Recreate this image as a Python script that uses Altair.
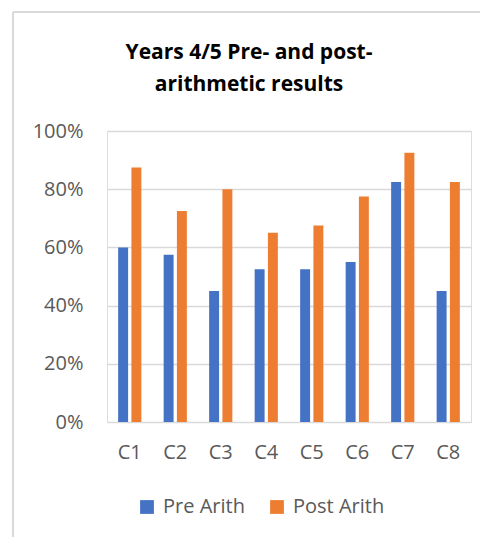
import altair as alt
import pandas as pd

categories = ["C1", "C2", "C3", "C4", "C5", "C6", "C7", "C8"]
pre_arith = [0.60, 0.575, 0.45, 0.525, 0.525, 0.55, 0.825, 0.45]
post_arith = [0.875, 0.725, 0.80, 0.65, 0.675, 0.775, 0.925, 0.825]
series = ["Pre Arith", "Post Arith"]
colors = ["#4472C4", "#ED7D31"]

rows = []
for c, a, b in zip(categories, pre_arith, post_arith):
    rows.append({"cat": c, "series": series[0], "value": a})
    rows.append({"cat": c, "series": series[1], "value": b})
df = pd.DataFrame(rows)

FONT = "Open Sans"
GREY = "#595959"

bars = alt.Chart(df).mark_bar().encode(
    x=alt.X("cat:N", sort=categories,
            scale=alt.Scale(paddingInner=0.49, paddingOuter=0.245),
            axis=alt.Axis(title=None, labelAngle=0, ticks=False, domain=False,
                          labelPadding=20, labelFontSize=20, labelColor=GREY,
                          labelFont=FONT)),
    xOffset=alt.XOffset("series:N", sort=series,
                        scale=alt.Scale(paddingInner=0.25, paddingOuter=0)),
    y=alt.Y("value:Q", scale=alt.Scale(domain=[0, 1]),
            axis=alt.Axis(title=None, format=".0%", values=[0, 0.2, 0.4, 0.6, 0.8, 1.0],
                          ticks=False, domain=False, labelPadding=24,
                          labelFontSize=20, labelColor=GREY, labelFont=FONT,
                          gridColor="#d9d9d9", gridWidth=1.3)),
    color=alt.Color("series:N", sort=series,
                    scale=alt.Scale(domain=series, range=colors),
                    legend=alt.Legend(title=None, orient="none", legendX=30, legendY=366,
                                      direction="horizontal", symbolType="square",
                                      symbolSize=190, symbolStrokeWidth=0,
                                      labelFontSize=20, labelColor=GREY, labelFont=FONT,
                                      labelOffset=6, columnPadding=22)),
)

border = alt.Chart(df).mark_rule(color="#d9d9d9", strokeWidth=1.5).encode(
    x=alt.value(-94), y=alt.value(-119), y2=alt.value(420)
)
border_top = alt.Chart(df).mark_rule(color="#d9d9d9", strokeWidth=1.5).encode(
    x=alt.value(-94), x2=alt.value(400), y=alt.value(-119)
)

chart = alt.layer(bars, border, border_top).properties(
    width=364,
    height=291,
    title=alt.TitleParams(
        text=["Years 4/5 Pre- and post-", "arithmetic results"],
        fontSize=21, fontWeight="bold", font=FONT, color="#000000",
        anchor="middle", frame="group", dx=-40, dy=104, lineHeight=32, offset=20,
    ),
    autosize=alt.AutoSizeParams(type="none"),
    padding={"left": 99, "top": 123, "right": 9, "bottom": 115},
).configure_view(strokeWidth=0).configure(background="white")

chart.save("out.html", embed_options={"renderer": "svg", "actions": False})
